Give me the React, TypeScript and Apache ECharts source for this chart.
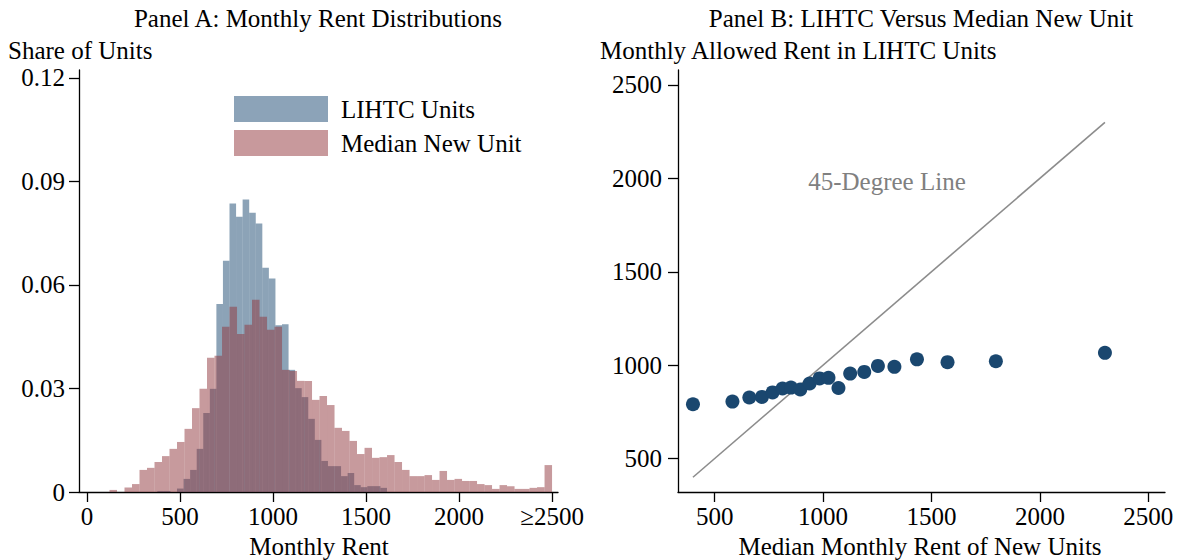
import React, { useEffect, useRef } from "react";
import * as echarts from "echarts";

// ---------- Panel A: histogram data (share of units per bin) ----------
const newUnitBinStart = 0;
const newUnitBinWidth = 2500 / 62;
const newUnitShares = [
  0, 0, 0, 0.0006, 0, 0.0013, 0.0023, 0.0064, 0.007, 0.0087,
  0.0104, 0.0125, 0.0145, 0.0183, 0.0243, 0.0299, 0.0389, 0.0395, 0.0479, 0.0537,
  0.0458, 0.0485, 0.0557, 0.0508, 0.047, 0.0479, 0.0354, 0.0351, 0.0322, 0.0322,
  0.0267, 0.0278, 0.0252, 0.0186, 0.0177, 0.0148, 0.011, 0.0128, 0.0099, 0.0101,
  0.0107, 0.0087, 0.0064, 0.0046, 0.0046, 0.0049, 0.0035, 0.0061, 0.0035, 0.0038,
  0.0032, 0.0032, 0.0023, 0.002, 0.0009, 0.002, 0.0017, 0.0009, 0.0009, 0.0012,
  0.0014, 0.0078,
];

const lihtcBinStart = 378;
const lihtcBinWidth = 35.28;
const lihtcShares = [
  0.0003, 0.0003, 0, 0.001, 0.0038, 0.0064, 0.0125, 0.0229, 0.0299, 0.0545,
  0.067, 0.0836, 0.0798, 0.0848, 0.0809, 0.0778, 0.065, 0.0619, 0.0483, 0.0486,
  0.0354, 0.0301, 0.0275, 0.0212, 0.0151, 0.009, 0.0075, 0.0075, 0.0046, 0.0055,
  0.002, 0.0014, 0.0017, 0.0017, 0.0012,
];

const rentTicks = [0, 500, 1000, 1500, 2000, 2500];
const shareTicks = [0, 0.03, 0.06, 0.09, 0.12];

// ---------- Panel B: binned scatter ----------
const medianNewRent = [
  400, 582, 660, 718, 767, 813, 852, 895, 938, 984,
  1025, 1071, 1125, 1190, 1253, 1329, 1433, 1574, 1797, 2300,
];
const lihtcAllowedRent = [
  791, 805, 827, 830, 854, 875, 880, 870, 902, 929,
  932, 878, 955, 964, 996, 991, 1031, 1016, 1021, 1066,
];
const panelBTicks = [500, 1000, 1500, 2000, 2500];

const FONT = "'Liberation Serif', 'Times New Roman', Times, serif";
const NAVY = "#1a476f";
const FS = 25;

function toBins(start: number, width: number, shares: number[]) {
  return shares.map((s, i) => [start + i * width, start + (i + 1) * width, s]);
}

const renderBin = (fill: string) => (params: any, api: any) => {
  const x0 = api.value(0);
  const x1 = api.value(1);
  const h = api.value(2);
  const pTop = api.coord([x0, h]);
  const pBot = api.coord([x1, 0]);
  return {
    type: "rect",
    shape: { x: pTop[0], y: pTop[1], width: pBot[0] - pTop[0], height: pBot[1] - pTop[1] },
    style: { fill },
  };
};

export default function App() {
  const ref = useRef<HTMLDivElement>(null);

  useEffect(() => {
    if (!ref.current) return;
    const chart = echarts.init(ref.current, undefined, { renderer: "svg" });

    const axisCommon = {
      axisLine: { show: true, onZero: false, lineStyle: { color: "#000", width: 1.3 } },
      splitLine: { show: false },
    };
    const tick = (vals: number[]) => ({
      show: true,
      length: 10,
      customValues: vals,
      lineStyle: { color: "#000", width: 1.3 },
    });

    const minX = Math.min(...medianNewRent);
    const maxX = Math.max(...medianNewRent);

    const option: any = {
      animation: false,
      textStyle: { fontFamily: FONT },
      grid: [
        { left: 79, top: 70, width: 479, height: 422 },
        { left: 678, top: 70, width: 487, height: 422 },
      ],
      xAxis: [
        {
          gridIndex: 0,
          type: "value",
          min: -43,
          max: 2532,
          ...axisCommon,
          axisTick: tick(rentTicks),
          axisLabel: {
            customValues: rentTicks,
            formatter: (v: number) => (v === 2500 ? "≥2500" : String(v)),
            fontSize: FS,
            color: "#000",
            margin: 12,
            fontFamily: FONT,
          },
        },
        {
          gridIndex: 1,
          type: "value",
          min: 331,
          max: 2577,
          ...axisCommon,
          axisTick: tick(panelBTicks),
          axisLabel: {
            customValues: panelBTicks,
            formatter: (v: number) => String(v),
            fontSize: FS,
            color: "#000",
            margin: 12,
            fontFamily: FONT,
          },
        },
      ],
      yAxis: [
        {
          gridIndex: 0,
          type: "value",
          min: 0,
          max: 0.1223,
          ...axisCommon,
          axisTick: tick(shareTicks),
          axisLabel: {
            customValues: shareTicks,
            formatter: (v: number) => (v === 0 ? "0" : v.toFixed(2)),
            fontSize: FS,
            color: "#000",
            margin: 14,
            fontFamily: FONT,
          },
        },
        {
          gridIndex: 1,
          type: "value",
          min: 321,
          max: 2580,
          ...axisCommon,
          axisTick: tick(panelBTicks),
          axisLabel: {
            customValues: panelBTicks,
            formatter: (v: number) => String(v),
            fontSize: FS,
            color: "#000",
            margin: 16,
            fontFamily: FONT,
          },
        },
      ],
      legend: {
        show: true,
        selectedMode: false,
        orient: "vertical",
        left: 234,
        top: 96,
        padding: 0,
        itemWidth: 94,
        itemHeight: 26,
        itemGap: 8,
        textStyle: { fontSize: FS, color: "#000", fontFamily: FONT, padding: [0, 0, 0, 8] },
        data: [
          { name: "LIHTC Units", icon: "rect", itemStyle: { color: "#8ca3b8" } },
          { name: "Median New Unit", icon: "rect", itemStyle: { color: "#c8999c" } },
        ],
      },
      series: [
        {
          name: "LIHTC Units",
          type: "custom",
          xAxisIndex: 0,
          yAxisIndex: 0,
          encode: { x: [0, 1], y: 2 },
          itemStyle: { color: "rgba(26,71,111,0.5)" },
          renderItem: renderBin("rgba(26,71,111,0.5)"),
          data: toBins(lihtcBinStart, lihtcBinWidth, lihtcShares),
        },
        {
          name: "Median New Unit",
          type: "custom",
          xAxisIndex: 0,
          yAxisIndex: 0,
          encode: { x: [0, 1], y: 2 },
          itemStyle: { color: "rgba(144,53,59,0.5)" },
          renderItem: renderBin("rgba(144,53,59,0.5)"),
          data: toBins(newUnitBinStart, newUnitBinWidth, newUnitShares),
        },
        {
          name: "45-Degree Line",
          type: "line",
          xAxisIndex: 1,
          yAxisIndex: 1,
          symbol: "none",
          lineStyle: { color: "#8c8c8c", width: 1.6 },
          data: [
            [minX, minX],
            [maxX, maxX],
          ],
          z: 1,
        },
        {
          name: "Binned",
          type: "scatter",
          xAxisIndex: 1,
          yAxisIndex: 1,
          symbol: "circle",
          symbolSize: 14,
          itemStyle: { color: NAVY, opacity: 1 },
          data: medianNewRent.map((x, i) => [x, lihtcAllowedRent[i]]),
          z: 3,
        },
      ],
      graphic: [
        { type: "text", x: 318, y: 18, style: { text: "Panel A: Monthly Rent Distributions", fontSize: FS, fontFamily: FONT, fill: "#000", align: "center", verticalAlign: "middle" } },
        { type: "text", x: 921, y: 18, style: { text: "Panel B: LIHTC Versus Median New Unit", fontSize: FS, fontFamily: FONT, fill: "#000", align: "center", verticalAlign: "middle" } },
        { type: "text", x: 8, y: 50, style: { text: "Share of Units", fontSize: FS, fontFamily: FONT, fill: "#000", align: "left", verticalAlign: "middle" } },
        { type: "text", x: 600, y: 50, style: { text: "Monthly Allowed Rent in LIHTC Units", fontSize: FS, fontFamily: FONT, fill: "#000", align: "left", verticalAlign: "middle" } },
        { type: "text", x: 319, y: 546, style: { text: "Monthly Rent", fontSize: FS, fontFamily: FONT, fill: "#000", align: "center", verticalAlign: "middle" } },
        { type: "text", x: 920, y: 546, style: { text: "Median Monthly Rent of New Units", fontSize: FS, fontFamily: FONT, fill: "#000", align: "center", verticalAlign: "middle" } },
        { type: "text", x: 887, y: 181, style: { text: "45-Degree Line", fontSize: FS, fontFamily: FONT, fill: "#808080", align: "center", verticalAlign: "middle" } },
      ],
    };

    chart.setOption(option);
    return () => chart.dispose();
  }, []);

  return (
    <div
      ref={ref}
      style={{ position: "fixed", left: 0, top: 0, width: 1178, height: 560, background: "#fff" }}
    />
  );
}
